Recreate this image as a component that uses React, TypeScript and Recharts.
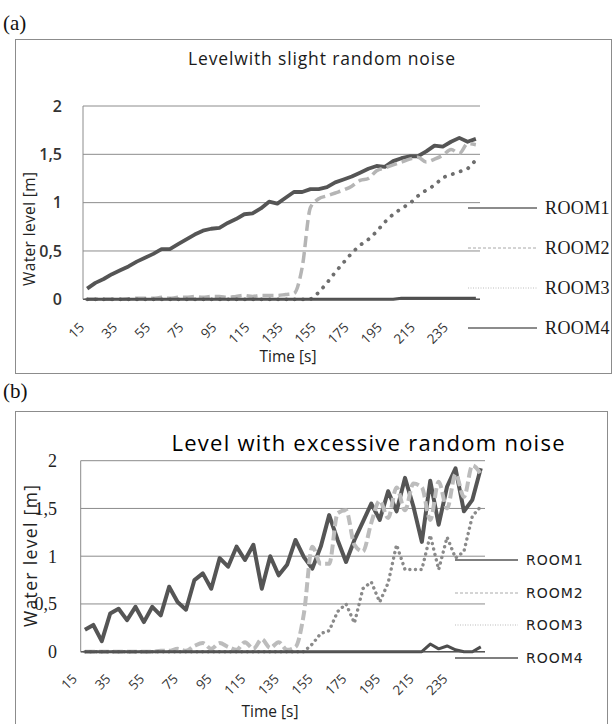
import React from 'react';
import { LineChart, Line, XAxis, YAxis, CartesianGrid, Legend } from 'recharts';

// time categories [s], one every 5 s
const TIMES = [
  15, 20, 25, 30, 35, 40, 45, 50, 55, 60, 65, 70, 75, 80, 85, 90,
  95, 100, 105, 110, 115, 120, 125, 130, 135, 140, 145, 150, 155, 160, 165, 170,
  175, 180, 185, 190, 195, 200, 205, 210, 215, 220, 225, 230, 235, 240, 245, 250,
];
const Y_TICKS = [0, 0.5, 1, 1.5, 2];
const ROOMS = ['ROOM1', 'ROOM2', 'ROOM3', 'ROOM4'];

// (a) slight noise
const A_ROOM1 = [
  0.11, 0.17, 0.21, 0.26, 0.3, 0.34, 0.39, 0.43, 0.47, 0.52, 0.52, 0.57, 0.62, 0.67, 0.71, 0.73,
  0.74, 0.79, 0.83, 0.88, 0.89, 0.94, 1.01, 0.99, 1.05, 1.11, 1.11, 1.14, 1.14, 1.16, 1.21, 1.24,
  1.27, 1.31, 1.35, 1.38, 1.37, 1.43, 1.46, 1.48, 1.48, 1.53, 1.59, 1.58, 1.63, 1.67, 1.63, 1.66,
];
const A_ROOM2 = [
  0, 0, 0, 0, 0, 0.005, 0.01, 0.01, 0.01, 0.02, 0.01, 0.02, 0.02, 0.03, 0.02, 0.03,
  0.03, 0.02, 0.03, 0.04, 0.03, 0.04, 0.04, 0.04, 0.05, 0.06, 0.33, 0.95, 1.04, 1.07, 1.1, 1.13,
  1.17, 1.23, 1.25, 1.33, 1.36, 1.39, 1.42, 1.45, 1.47, 1.42, 1.45, 1.49, 1.55, 1.51, 1.61, 1.6,
];
const A_ROOM3 = [
  0, 0, 0, 0, 0, 0, 0, 0, 0, 0, 0, 0, 0, 0, 0, 0,
  0, 0, 0, 0, 0, 0, 0, 0, 0, 0, 0, 0, 0.07, 0.17, 0.28, 0.38,
  0.48, 0.56, 0.62, 0.7, 0.8, 0.88, 0.94, 0.99, 1.07, 1.13, 1.18, 1.26, 1.29, 1.32, 1.35, 1.44,
];
const A_ROOM4 = [
  0, 0, 0, 0, 0, 0, 0, 0, 0, 0, 0, 0, 0, 0, 0, 0,
  0, 0, 0, 0, 0, 0, 0, 0, 0, 0, 0, 0, 0, 0, 0, 0,
  0, 0, 0, 0, 0, 0, 0.01, 0.01, 0.01, 0.01, 0.01, 0.01, 0.01, 0.01, 0.01, 0.01,
];

// (b) excessive noise
const B_ROOM1 = [
  0.23, 0.28, 0.11, 0.4, 0.45, 0.33, 0.47, 0.31, 0.47, 0.38, 0.68, 0.52, 0.44, 0.75, 0.82, 0.66,
  0.98, 0.89, 1.1, 0.96, 1.12, 0.66, 1.0, 0.8, 0.91, 1.17, 0.99, 0.87, 1.1, 1.43, 1.17, 0.94,
  1.17, 1.36, 1.55, 1.38, 1.68, 1.47, 1.82, 1.52, 1.15, 1.79, 1.33, 1.73, 1.92, 1.47, 1.59, 1.92,
];
const B_ROOM2 = [
  0, 0, 0, 0, 0, 0, 0, 0, 0, 0.01, 0.01, 0.03, 0.01, 0.06, 0.09, 0.03,
  0.09, 0.05, 0.02, 0.1, 0.03, 0.13, 0.04, 0.1, 0.02, 0.05, 0.4, 1.1, 0.92, 0.92, 1.45, 1.48,
  1.12, 1.05, 1.35, 1.58, 1.4, 1.72, 1.48, 1.76, 1.72, 1.38, 1.78, 1.5, 1.86, 1.62, 1.95, 1.86,
];
const B_ROOM3 = [
  0, 0, 0, 0, 0, 0, 0, 0, 0, 0, 0, 0, 0, 0, 0, 0,
  0, 0, 0, 0, 0, 0, 0, 0, 0, 0, 0, 0.08, 0.19, 0.22, 0.42, 0.5,
  0.3, 0.66, 0.73, 0.52, 0.72, 1.12, 0.86, 0.86, 0.86, 1.22, 0.86, 1.2, 0.98, 1.05, 1.42, 1.52,
];
const B_ROOM4 = [
  0, 0, 0, 0, 0, 0, 0, 0, 0, 0, 0, 0, 0, 0, 0, 0,
  0, 0, 0, 0, 0, 0, 0, 0, 0, 0, 0, 0, 0, 0, 0, 0,
  0, 0, 0, 0, 0, 0, 0, 0, 0, 0.08, 0.03, 0.06, 0.02, 0, 0, 0.05,
];

const rowsOf = (series: number[][]) =>
  TIMES.map((t, i) => ({ t, ROOM1: series[0][i], ROOM2: series[1][i], ROOM3: series[2][i], ROOM4: series[3][i] }));

const A_ROWS = rowsOf([A_ROOM1, A_ROOM2, A_ROOM3, A_ROOM4]);
const B_ROWS = rowsOf([B_ROOM1, B_ROOM2, B_ROOM3, B_ROOM4]);

type LineStyle = { stroke: string; width: number; dash?: string; round?: boolean; curve: 'linear' | 'monotone' };

type Cfg = {
  top: number;
  height: number;
  plotLeft: number;
  plotRight: number;
  plotTop: number;
  plotBottom: number;
  lines: LineStyle[];
  legendLines: LineStyle[];
  legendLeft: number;
  legendTop: number;
  legendRow: number;
  legendLine: number;
  legendFont: React.CSSProperties;
  yTickRight: number;
  yTickFont: React.CSSProperties;
  xTickDx: number;
  xTickDy: number;
  xTickFont: React.CSSProperties;
  yTitle: { x: number; y: number; len: number; size: number };
  xTitle: { x: number; y: number; size: number };
};

const A_CFG: Cfg = {
  top: 0,
  height: 380,
  plotLeft: 83,
  plotRight: 480,
  plotTop: 106,
  plotBottom: 299.3,
  lines: [
    { stroke: '#555555', width: 3.8, curve: 'linear' },
    { stroke: '#b5b5b5', width: 3.5, dash: '11 5', curve: 'monotone' },
    { stroke: '#6e6e6e', width: 3.8, dash: '0.1 8.2', round: true, curve: 'linear' },
    { stroke: '#4d4d4d', width: 3, curve: 'linear' },
  ],
  legendLines: [
    { stroke: '#666', width: 1.6, curve: 'linear' },
    { stroke: '#a8a8a8', width: 1, dash: '3 2', curve: 'linear' },
    { stroke: '#bdbdbd', width: 1, dash: '1 1.5', curve: 'linear' },
    { stroke: '#666', width: 1.6, curve: 'linear' },
  ],
  legendLeft: 468,
  legendTop: 188,
  legendRow: 40,
  legendLine: 69,
  legendFont: { fontFamily: '"Liberation Serif", serif', fontSize: 18, letterSpacing: 0.4, color: '#1a1a1a' },
  yTickRight: 62,
  yTickFont: { fontFamily: '"Open Sans", sans-serif', fontSize: 16, fontWeight: 600, fill: '#333' },
  xTickDx: -2,
  xTickDy: 29,
  xTickFont: { fontFamily: '"Open Sans", sans-serif', fontSize: 13.5, fill: '#333' },
  yTitle: { x: 30, y: 229, len: 114, size: 15.5 },
  xTitle: { x: 288, y: 357, size: 15.5 },
};

const B_CFG: Cfg = {
  top: 362,
  height: 362,
  plotLeft: 80.7,
  plotRight: 485,
  plotTop: 98.7,
  plotBottom: 289.7,
  lines: [
    { stroke: '#555555', width: 4, curve: 'linear' },
    { stroke: '#bcbcbc', width: 4, dash: '10 4', curve: 'monotone' },
    { stroke: '#8a8a8a', width: 3.4, dash: '0.1 5.5', round: true, curve: 'linear' },
    { stroke: '#4d4d4d', width: 3, curve: 'linear' },
  ],
  legendLines: [
    { stroke: '#555', width: 1.4, curve: 'linear' },
    { stroke: '#aaa', width: 1, dash: '3 2', curve: 'linear' },
    { stroke: '#bbb', width: 1, dash: '1 1.5', curve: 'linear' },
    { stroke: '#555', width: 1.4, curve: 'linear' },
  ],
  legendLeft: 455,
  legendTop: 181.7,
  legendRow: 32.7,
  legendLine: 63,
  legendFont: { fontFamily: '"DejaVu Sans", sans-serif', fontSize: 14, letterSpacing: 1, color: '#222' },
  yTickRight: 57,
  yTickFont: { fontFamily: '"Liberation Serif", serif', fontSize: 18, fill: '#222' },
  xTickDx: -7,
  xTickDy: 28,
  xTickFont: { fontFamily: '"Open Sans", sans-serif', fontSize: 13.5, fill: '#333' },
  yTitle: { x: 31, y: 194, len: 142, size: 17.5 },
  xTitle: { x: 270, y: 350, size: 15.5 },
};

function RoomChart({ rows, cfg }: { rows: typeof A_ROWS; cfg: Cfg }) {
  const yAxisW = 50;
  const xAxisH = 50;
  const half = (cfg.plotRight - cfg.plotLeft) / TIMES.length / 2;
  const margin = {
    top: cfg.plotTop,
    right: 613 - cfg.plotRight,
    left: cfg.plotLeft - yAxisW,
    bottom: cfg.height - cfg.plotBottom - xAxisH,
  };

  const XTick = (p: any) => {
    const x = p.x + cfg.xTickDx;
    const y = cfg.plotBottom + cfg.xTickDy;
    return (
      <text x={x} y={y} transform={`rotate(-45, ${x}, ${y})`} textAnchor="end" style={cfg.xTickFont}>
        {p.payload.value}
      </text>
    );
  };

  const YTick = (p: any) => (
    <text x={cfg.yTickRight} y={p.y} dy="0.35em" textAnchor="end" style={cfg.yTickFont}>
      {String(p.payload.value).replace('.', ',')}
    </text>
  );

  const YTitle = () => (
    <text
      x={cfg.yTitle.x}
      y={cfg.yTitle.y}
      transform={`rotate(-90, ${cfg.yTitle.x}, ${cfg.yTitle.y})`}
      textAnchor="middle"
      dy="0.35em"
      textLength={cfg.yTitle.len}
      lengthAdjust="spacing"
      style={{ fontFamily: '"Open Sans", sans-serif', fontSize: cfg.yTitle.size, fill: '#222' }}
    >
      Water level [m]
    </text>
  );

  const XTitle = () => (
    <text
      x={cfg.xTitle.x}
      y={cfg.xTitle.y}
      textAnchor="middle"
      dy="0.35em"
      style={{ fontFamily: '"Open Sans", sans-serif', fontSize: cfg.xTitle.size, fill: '#222' }}
    >
      Time [s]
    </text>
  );

  const renderLegend = (p: any) => (
    <div>
      {(p.payload || []).map((e: any) => {
        const s = cfg.legendLines[ROOMS.indexOf(e.value)];
        return (
          <div key={e.value} style={{ height: cfg.legendRow, display: 'flex', alignItems: 'center' }}>
            <svg width={cfg.legendLine} height={6} style={{ display: 'block' }}>
              <line x1={0} x2={cfg.legendLine} y1={3} y2={3} stroke={s.stroke} strokeWidth={s.width} strokeDasharray={s.dash} />
            </svg>
            <span style={{ marginLeft: 8, lineHeight: 1, ...cfg.legendFont }}>{e.value}</span>
          </div>
        );
      })}
    </div>
  );

  return (
    <div style={{ position: 'absolute', left: 0, top: cfg.top }}>
      <LineChart width={613} height={cfg.height} data={rows} margin={margin}>
        <CartesianGrid vertical={false} stroke="#8c8c8c" strokeWidth={1} />
        <XAxis
          dataKey="t"
          interval={3}
          height={xAxisH}
          padding={{ left: half, right: half }}
          tickLine={false}
          axisLine={{ stroke: '#555', strokeWidth: 1.5 }}
          tick={<XTick />}
          label={<XTitle />}
        />
        <YAxis
          width={yAxisW}
          domain={[0, 2]}
          ticks={Y_TICKS}
          tickLine={false}
          axisLine={{ stroke: '#8c8c8c' }}
          tick={<YTick />}
          label={<YTitle />}
        />
        {ROOMS.map((r, i) => {
          const s = cfg.lines[i];
          return (
            <Line
              key={r}
              dataKey={r}
              name={r}
              type={s.curve}
              stroke={s.stroke}
              strokeWidth={s.width}
              strokeDasharray={s.dash}
              strokeLinecap={s.round ? 'round' : 'butt'}
              strokeLinejoin="round"
              dot={false}
              activeDot={false}
              isAnimationActive={false}
            />
          );
        })}
        <Legend
          layout="vertical"
          align="center"
          verticalAlign="middle"
          content={renderLegend}
          wrapperStyle={{ left: cfg.legendLeft, top: cfg.legendTop, width: 160 }}
        />
      </LineChart>
    </div>
  );
}

export default function App() {
  return (
    <div style={{ position: 'absolute', left: 0, top: 0, width: 613, height: 724, background: '#fff', overflow: 'hidden' }}>
      <div style={{ position: 'absolute', left: 15, top: 39, width: 597, height: 335, border: '1px solid #8c8c8c', boxSizing: 'border-box' }} />
      <div style={{ position: 'absolute', left: 15, top: 411, width: 593, height: 330, border: '1px solid #8c8c8c', boxSizing: 'border-box' }} />
      <RoomChart rows={A_ROWS} cfg={A_CFG} />
      <RoomChart rows={B_ROWS} cfg={B_CFG} />
      <svg width={613} height={724} style={{ position: 'absolute', left: 0, top: 0, pointerEvents: 'none' }}>
        <text x={3} y={30} style={{ fontFamily: '"Liberation Serif", serif', fontSize: 21, fill: '#111' }}>(a)</text>
        <text x={3} y={398} style={{ fontFamily: '"Liberation Serif", serif', fontSize: 21, fill: '#111' }}>(b)</text>
        <text
          x={321.5}
          y={65}
          textAnchor="middle"
          textLength={267}
          lengthAdjust="spacing"
          style={{ fontFamily: '"Open Sans", sans-serif', fontSize: 17.5, fill: '#1a1a1a' }}
        >
          Levelwith slight random noise
        </text>
        <text
          x={368}
          y={451}
          textAnchor="middle"
          textLength={393}
          lengthAdjust="spacing"
          style={{ fontFamily: '"Open Sans", sans-serif', fontSize: 22, fill: '#000' }}
        >
          Level with excessive random noise
        </text>
      </svg>
    </div>
  );
}
